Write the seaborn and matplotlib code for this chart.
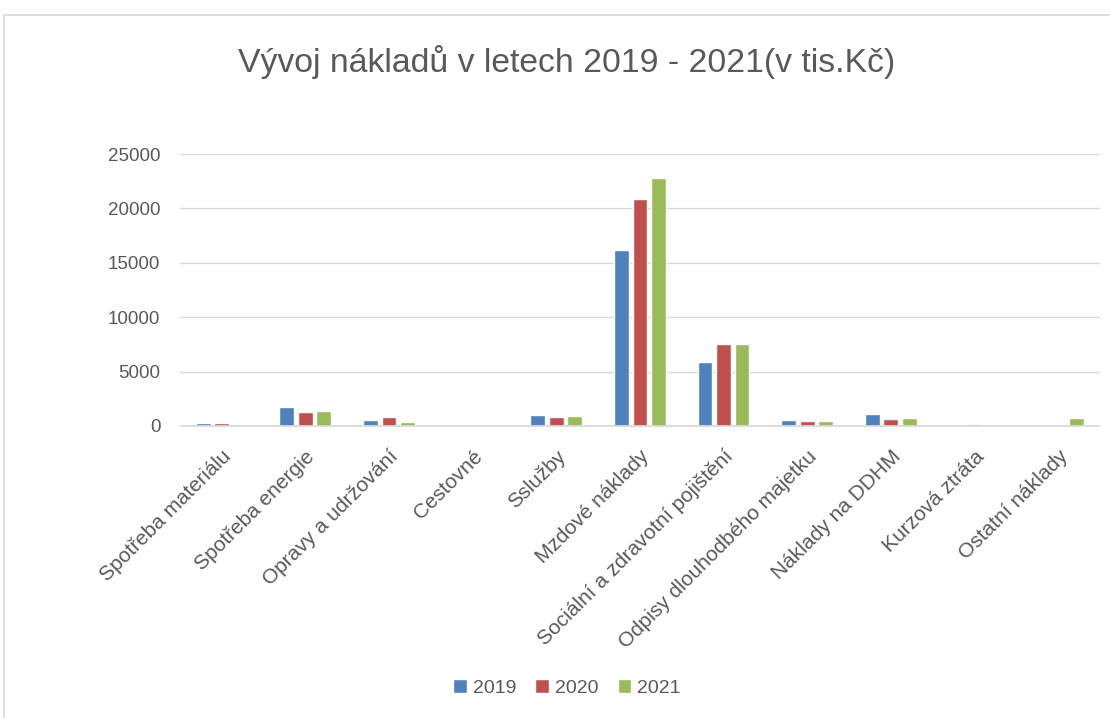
import pandas as pd
import numpy as np
import matplotlib.pyplot as plt
import seaborn as sns
from matplotlib.patches import Rectangle

# data (tis. Kč)
categories = ['Spotřeba materiálu', 'Spotřeba energie', 'Opravy a udržování', 'Cestovné',
              'Sslužby', 'Mzdové náklady', 'Sociální a zdravotní pojištění',
              'Odpisy dlouhodbého majetku', 'Náklady na DDHM', 'Kurzová ztráta', 'Ostatní náklady']
v2019 = [270, 1750, 560, 80, 1000, 16200, 5900, 560, 1120, 10, 10]
v2020 = [260, 1300, 800, 10, 850, 20900, 7500, 500, 600, 170, 10]
v2021 = [180, 1400, 350, 10, 900, 22800, 7550, 500, 750, 50, 750]
years = ['2019', '2020', '2021']
colors = ['#4F81BD', '#C0504D', '#9BBB59']

df = pd.DataFrame({
    'kategorie': categories * 3,
    'hodnota': v2019 + v2020 + v2021,
    'rok': [y for y in years for _ in categories],
})

sns.set_theme(style='white')
plt.rcParams['font.family'] = ['Liberation Sans', 'DejaVu Sans']
txt = '#595959'

fig = plt.figure(figsize=(11.1, 7.18), dpi=100)
ax = fig.add_axes([0.162, 0.4067, 0.829, 0.3788])

sns.barplot(data=df, x='kategorie', y='hodnota', hue='rok', palette=colors,
            saturation=1, width=0.664, gap=0.2, ax=ax, legend=True)

ax.set_ylim(0, 25000)
ax.set_yticks(range(0, 25001, 5000))
ax.grid(axis='y', color='#D9D9D9', lw=1)
ax.set_axisbelow(True)
for s in ['top', 'right', 'left']:
    ax.spines[s].set_visible(False)
ax.spines['bottom'].set_color('#D9D9D9')
ax.set_xlabel('')
ax.set_ylabel('')
ax.tick_params(axis='both', length=0, colors=txt)
ax.tick_params(axis='y', pad=14, labelsize=13.5)
ax.tick_params(axis='x', pad=15, labelsize=15)
plt.setp(ax.get_xticklabels(), rotation=45, ha='right', rotation_mode='anchor')

ax.legend(loc='center', bbox_to_anchor=(567 / 1110, 1 - 688 / 718),
          bbox_transform=fig.transFigure, ncol=3, frameon=False, fontsize=14,
          labelcolor=txt, handlelength=0.7, handleheight=0.7, handletextpad=0.3,
          columnspacing=1.0)

fig.text(567 / 1110, 1 - 62 / 718, 'Vývoj nákladů v letech 2019 - 2021(v tis.Kč)',
         ha='center', va='center', fontsize=24.3, color=txt)

fig.patches.append(Rectangle((4 / 1110, -0.1), 1.2, 1.1 - 15 / 718, transform=fig.transFigure,
                             fill=False, ec='#D9D9D9', lw=1.2))

fig.savefig('out.png', dpi=100)
